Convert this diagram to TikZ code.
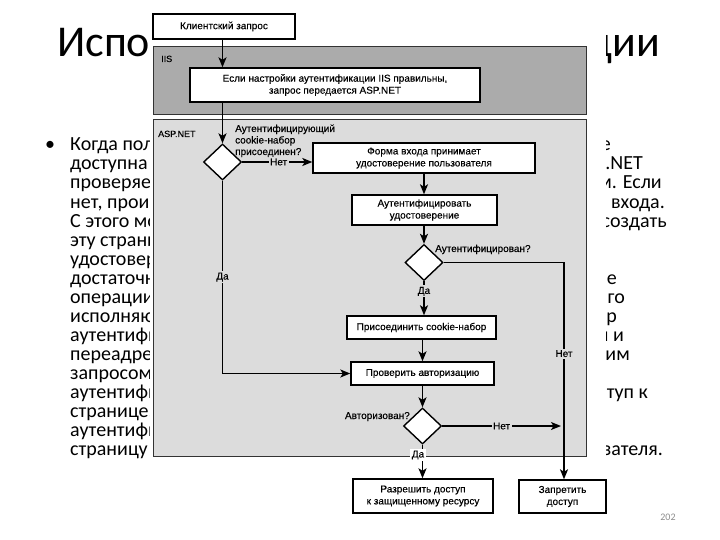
\documentclass[tikz,border=0pt]{standalone}
\usepackage{fontspec}
\setmainfont{Carlito}
\newfontfamily\fc[FakeBold=0.3]{Liberation Sans}
\usetikzlibrary{shapes.geometric,arrows.meta}
\definecolor{iisgray}{HTML}{ABABAB}
\definecolor{aspgray}{HTML}{DCDCDC}
\definecolor{pagegray}{HTML}{8C8C8C}
\tikzset{
  bodytext/.style={inner sep=0pt,font=\fontsize{20}{19}\selectfont},
  panel/.style={draw=black!80,line width=1pt},
  fbox/.style={draw=black,line width=1.4pt,fill=white,inner sep=1pt,align=center,
     font=\fc\fontsize{10}{12}\selectfont},
  dia/.style={diamond,draw=black,line width=1.4pt,fill=white,inner sep=0pt,
     minimum width=38pt,minimum height=36pt},
  flow/.style={line width=1.5pt,-{Stealth[length=10pt,width=8pt,inset=2.5pt]}},
  lbl/.style={font=\fc\fontsize{10}{12}\selectfont,inner sep=0pt},
  gaplbl/.style={lbl,fill=aspgray,inner sep=1.5pt},
}
\begin{document}
\begin{tikzpicture}[x=1pt,y=-1pt]
\useasboundingbox (0,0) rectangle (720,540);
\fill[white] (0,0) rectangle (720,540);
% slide title (visible parts)
\node[anchor=base west,inner sep=0pt,font=\fontsize{44}{48}\selectfont] (t1) at (57,57) {Испо};
\node[anchor=base east,inner sep=0pt,font=\fontsize{44}{48}\selectfont] (t2) at (660,57) {ции};
% bullet
\node[anchor=base west,bodytext] (bul) at (45,151) {•};
% left column fragments
\foreach \t [count=\i from 0] in {{Когда пол},{доступна},{проверяе},{нет, прои},{С этого мо},{эту страни},{удостовер},{достаточн},{операции},{исполняю},{аутентифи},{переадре},{запросом},{аутентифи},{странице,},{аутентифи},{страницу}}{
  \node[anchor=base west,bodytext] (l\i) at (70,151+19*\i) {\t};
}
% right column fragments
\foreach \t/\xe/\i in {{е}/611/0,{.NET}/643/1,{м. Если}/662/2,{входа.}/665/3,{создать}/667/4,{е}/617/7,{го}/625/8,{р}/617/9,{н и}/624/10,{им}/630/11,{туп к}/648/13,{зателя.}/663/16}{
  \node[anchor=base east,bodytext] (r\i) at (\xe,151+19*\i) {\t};
}
% page number
\node[inner sep=0pt,text=pagegray,font=\fontsize{10}{12}\selectfont] (pg) at (668,517) {202};
% scanned figure background (covers text)
\fill[white] (150,6) rectangle (606,532);
% panels
\draw[panel,fill=iisgray] (153,47) rectangle (586,115);
\draw[panel,fill=aspgray] (153,120) rectangle (586,456);
\node[lbl,anchor=base west,font=\fc\fontsize{9}{11}\selectfont] (iis) at (161,62) {IIS};
\node[lbl,anchor=base west,font=\fc\fontsize{9}{11}\selectfont] (asp) at (158,137) {ASP.NET};
% boxes
\node[fbox,minimum width=142pt,minimum height=25pt] (client) at (224,26.5) {Клиентский запрос};
\node[fbox,minimum width=290pt,minimum height=34pt] (iisbox) at (335,85) {Если настройки аутентификации IIS правильны,\\запрос передается ASP.NET};
\node[dia] (d1) at (222.5,162) {};
\node[fbox,minimum width=222pt,minimum height=30pt] (forma) at (424,158) {Форма входа принимает\\удостоверение пользователя};
\node[fbox,minimum width=145pt,minimum height=30pt] (auth) at (424.5,210) {Аутентифицировать\\удостоверение};
\node[dia] (d2) at (424,262.5) {};
\node[fbox,minimum width=149pt,minimum height=23pt] (join) at (421.5,327.5) {Присоединить cookie-набор};
\node[fbox,minimum width=143pt,minimum height=23pt] (check) at (422.5,373.5) {Проверить авторизацию};
\node[dia] (d3) at (422.5,426) {};
\node[fbox,minimum width=140pt,minimum height=34pt] (allow) at (423,496) {Разрешить доступ\\к защищенному ресурсу};
\node[fbox,minimum width=87pt,minimum height=33pt] (deny) at (562.5,496.5) {Запретить\\доступ};
% diamond labels
\node[lbl,anchor=base west] (q1a) at (235,132) {Аутентифицирующий};
\node[lbl,anchor=base west] (q1b) at (235,143.5) {cookie-набор};
\node[lbl,anchor=base west] (q1c) at (235,155) {присоединен?};
\node[lbl,anchor=base west] (q2) at (435,252) {Аутентифицирован?};
\node[lbl,anchor=base east] (q3) at (410,419) {Авторизован?};
% connectors
\draw[flow] (client.south -| d1) -- (iisbox.north -| d1);
\draw[flow] (iisbox.south -| d1) -- (d1.north);
\draw[flow] (d1.east) -- (d1.east -| forma.west) node[gaplbl,pos=0.52] (n1) {Нет};
\draw[flow] (forma.south) -- (auth.north -| forma.south);
\draw[flow] (auth.south -| d2) -- (d2.north);
\coordinate (c2) at (564,262.5);
\draw[flow] (d2.east) -- (c2) -- (c2 |- deny.north) node[gaplbl,pos=0.42] (n2) {Нет};
\draw[flow] (d2.south) -- (d2.south |- join.north) node[gaplbl,pos=0.3] (y2) {Да};
\draw[flow] (join.south -| check.north) -- (check.north);
\coordinate (c1) at (222.5,373.5);
\draw[flow] (d1.south) -- (c1) node[gaplbl,pos=0.5] (y1) {Да} -- (check.west);
\draw[flow] (check.south -| d3) -- (d3.north);
\coordinate (c3) at (561,426);
\draw[flow] (d3.east) -- (c3) node[gaplbl,pos=0.5] (n3) {Нет};
\draw[flow] (d3.south) -- (d3.south |- allow.north);
\node[lbl,fill=white,inner sep=2pt] (y3) at (418,455) {Да};
\end{tikzpicture}
\end{document}
